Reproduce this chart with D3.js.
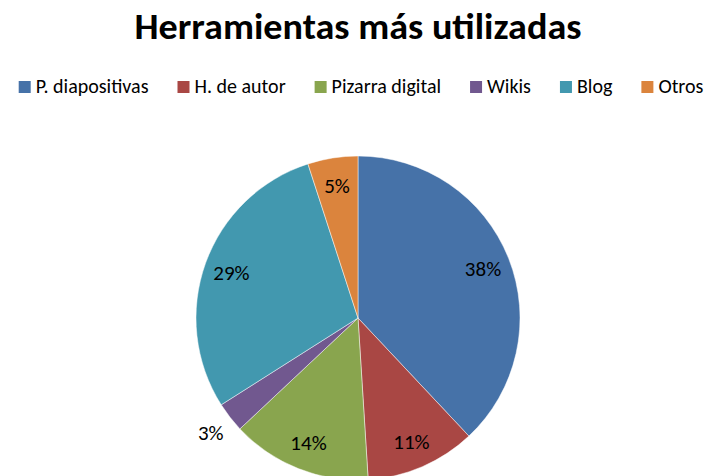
<!DOCTYPE html>
<html>
<head>
<meta charset="utf-8">
<script src="https://cdn.jsdelivr.net/npm/d3@7"></script>
<style>
    body { margin: 0; background: #fff; }
    svg { display: block; }
</style>
</head>
<body>
<script>

const categories = ['P. diapositivas', 'H. de autor', 'Pizarra digital', 'Wikis', 'Blog', 'Otros']
const values = [38, 11, 14, 3, 29, 5]
const colors = ['#4672a8', '#a94744', '#89a54e', '#71588f', '#4298af', '#db843d']

const width = 713
const height = 476
const font = 'Calibri, Carlito, Lato, sans-serif'

const svg = d3.select('body').append('svg')
    .attr('width', width)
    .attr('height', height)

// title
svg.append('text')
    .attr('x', 358)
    .attr('y', 39)
    .attr('text-anchor', 'middle')
    .style('font-family', font)
    .style('font-weight', 'bold')
    .style('font-size', '36px')
    .attr('textLength', 447)
    .attr('lengthAdjust', 'spacingAndGlyphs')
    .text('Herramientas más utilizadas')

// legend
const legend = svg.append('g')
const items = legend.selectAll('g')
    .data(categories)
    .join('g')

items.append('rect')
    .attr('width', 12)
    .attr('height', 12)
    .attr('y', 81)
    .attr('fill', (d, i) => colors[i])

items.append('text')
    .attr('x', 17)
    .attr('y', 93)
    .style('font-family', font)
    .style('font-size', '20px')
    .attr('fill', '#000')
    .text(d => d)

let x = 0
const spacing = 29
items.each(function(){
    const g = d3.select(this)
    g.attr('transform', `translate(${x},0)`)
    x += 17 + g.select('text').node().getComputedTextLength() + spacing
})
const legendWidth = x - spacing
legend.attr('transform', `translate(${(361 - legendWidth / 2).toFixed(1)},0)`)

// pie
const cx = 358, cy = 318, r = 162

const pie = d3.pie().sort(null).value(d => d)
const arcs = pie(values)
const arc = d3.arc().innerRadius(0).outerRadius(r)

const chart = svg.append('g').attr('transform', `translate(${cx},${cy})`)

chart.selectAll('path')
    .data(arcs)
    .join('path')
    .attr('d', arc)
    .attr('fill', (d, i) => colors[i])
    .attr('stroke', '#ffffff')
    .attr('stroke-opacity', 0.6)
    .attr('stroke-width', 0.8)

const total = d3.sum(values)
const inner = d3.arc().innerRadius(r * 0.83).outerRadius(r * 0.83)
const outer = d3.arc().innerRadius(r * 1.15).outerRadius(r * 1.15)

chart.selectAll('text')
    .data(arcs)
    .join('text')
    .attr('transform', d => {
        const c = (d.data / total < 0.04 ? outer : inner).centroid(d)
        return `translate(${c[0]},${c[1]})`
    })
    .attr('text-anchor', 'middle')
    .attr('dy', '0.35em')
    .style('font-family', font)
    .style('font-size', '21px')
    .attr('fill', '#000')
    .text(d => Math.round(d.data / total * 100) + '%')

</script>
</body>
</html>
